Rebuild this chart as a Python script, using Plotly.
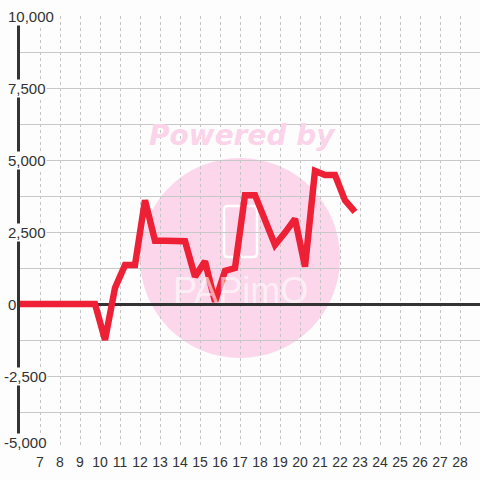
import plotly.graph_objects as go

# ---- data ----
x_vals = [5.75, 6.25, 6.75, 7.25, 7.75, 8.25, 8.75, 9.25, 9.75, 10.25, 10.75,
          11.25, 11.75, 12.25, 12.75, 13.25, 13.75, 14.25, 14.75, 15.25, 15.75,
          16.25, 16.75, 17.25, 17.75, 18.25, 18.75, 19.25, 19.75, 20.25, 20.75,
          21.25, 21.75, 22.25, 22.75]
y_vals = [0, 0, 0, 0, 0, 0, 0, 0, 0, -1250, 560,
          1350, 1350, 3600, 2200, 2200, 2200, 2180, 950, 1480, 80,
          1150, 1250, 3780, 3780, 2920, 2050, 2480, 2950, 1300, 4620,
          4480, 4480, 3600, 3200]
x_ticks = list(range(7, 29))
y_label_vals = [-5000, -2500, 0, 2500, 5000, 7500, 10000]
y_label_text = ["-5,000", "-2,500", "0", "2,500", "5,000", "7,500", "10,000"]

BG = "#fcfdfc"
W, H = 480, 480
L, R, T, B = 20, 0, 16, 32
PW, PH = W - L - R, H - T - B


def px(xp):
    return (xp - L) / PW


def py(yp):
    return (H - B - yp) / PH


fig = go.Figure()
fig.add_trace(go.Scatter(
    x=x_vals, y=y_vals, mode="lines",
    line=dict(color="#ee2036", width=6.5),
    hoverinfo="skip", showlegend=False,
))

# rounded rect path for logo
rx0, rx1, ry0, ry1, rr = px(224), px(257), py(206), py(257), 4 / PW
rry = 4 / PH
logo_path = (
    f"M {rx0 + rr},{ry0} L {rx1 - rr},{ry0} Q {rx1},{ry0} {rx1},{ry0 - rry} "
    f"L {rx1},{ry1 + rry} Q {rx1},{ry1} {rx1 - rr},{ry1} "
    f"L {rx0 + rr},{ry1} Q {rx0},{ry1} {rx0},{ry1 + rry} "
    f"L {rx0},{ry0 - rry} Q {rx0},{ry0} {rx0 + rr},{ry0} Z"
)

shapes = [
    dict(type="circle", xref="paper", yref="paper",
         x0=px(140), x1=px(340), y0=py(358), y1=py(158),
         fillcolor="#fcd6eb", line=dict(width=0), layer="below"),
    dict(type="path", xref="paper", yref="paper", layer="below",
         path=logo_path, line=dict(color="white", width=2.5)),
]

annotations = [
    dict(text="<b><i>Powered by</i></b>", xref="paper", yref="paper",
         x=px(242), y=py(117), showarrow=False,
         font=dict(family="DejaVu Sans", size=28, color="#fcd4ea")),
    dict(text="PAPimO", xref="paper", yref="paper",
         x=px(240), y=py(290), showarrow=False,
         font=dict(family="Liberation Sans", size=36, color="rgba(255,255,255,0.6)")),
]
for v, t in zip(y_label_vals, y_label_text):
    annotations.append(dict(
        text=t, xref="paper", yref="y", x=px(3 if v < 0 else 7), y=v,
        xanchor="left", yanchor="middle", showarrow=False,
        yshift=6 if v == -5000 else 0,
        bgcolor=BG, borderpad=0,
        font=dict(family="Liberation Sans", size=15, color="#333333"),
    ))

fig.update_layout(
    width=W, height=H,
    margin=dict(l=L, r=R, t=T, b=B, autoexpand=False),
    paper_bgcolor=BG, plot_bgcolor=BG,
    shapes=shapes, annotations=annotations,
    xaxis=dict(range=[6, 29], tickmode="array", tickvals=x_ticks,
               ticktext=[str(v) for v in x_ticks], automargin=False,
               ticklabelstandoff=4,
               showgrid=True, gridcolor="#c4c4c4", griddash="3px,3px", gridwidth=1,
               zeroline=False, showline=False, ticks="",
               tickfont=dict(family="Liberation Sans", size=14, color="#333333")),
    yaxis=dict(range=[-5000, 10000], tick0=0, dtick=1250, automargin=False,
               showgrid=True, gridcolor="#c8c8c8", gridwidth=1,
               showticklabels=False, ticks="",
               zeroline=True, zerolinecolor="#333333", zerolinewidth=3,
               showline=True, linecolor="#333333", linewidth=3),
)

fig.write_html("out.html", config={"displayModeBar": False},
               post_script="document.body.style.margin='0';document.body.style.padding='0';")
